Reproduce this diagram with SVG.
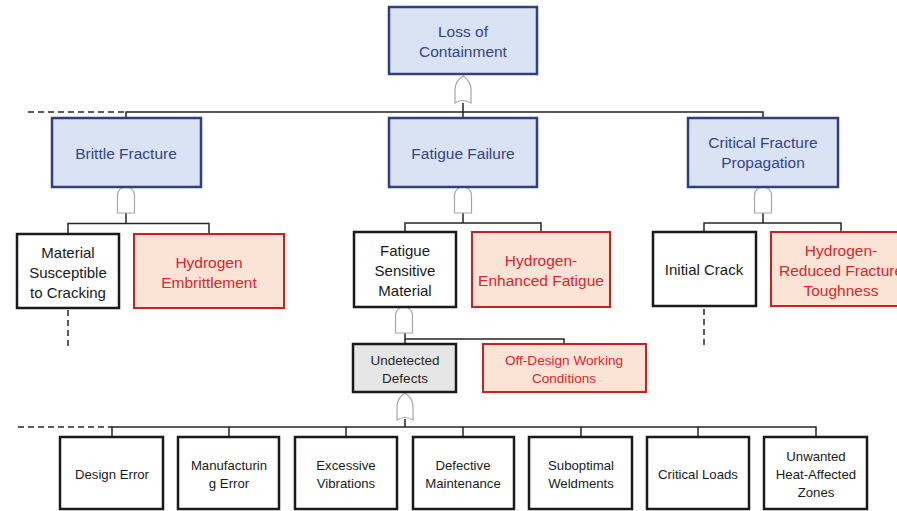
<svg xmlns="http://www.w3.org/2000/svg" width="897" height="511" viewBox="0 0 897 511">
<defs>
<style>
text{font-family:"Liberation Sans",Arial,sans-serif;text-anchor:middle;dominant-baseline:central}
.blue rect{fill:#dae3f3;stroke:#2f3f80;stroke-width:2.5}
.blue text{fill:#34448a;font-size:15.5px}
.red rect{fill:#fbe4d6;stroke:#cc1f1f;stroke-width:2}
.red text{fill:#d9262b;font-size:15.5px}
.basic rect{fill:#fff;stroke:#1a1a1a;stroke-width:2.5}
.basic text{fill:#1a1a1a;font-size:15px}
.gray rect{fill:#e6e6e6;stroke:#1a1a1a;stroke-width:2.5}
.gray text{fill:#262626;font-size:13.5px}
.small text{font-size:13.2px}
.red.small text{font-size:13.6px}
.gate{fill:#fff;stroke:#a6a6a6;stroke-width:1.2}
.ln{fill:none;stroke:#262626;stroke-width:1.5}
.dash{fill:none;stroke:#262626;stroke-width:1.5;stroke-dasharray:6 4}
</style>
<path id="and" d="M-8.5,26 V8 A8.5,8 0 0 1 8.5,8 V26 Z"/>
<path id="or" d="M-8,27 V14 Q-8,5 0,0 Q8,5 8,14 V27 Q0,22 -8,27 Z"/>
</defs>

<g id="connectors">
<line class="ln" x1="463" y1="103" x2="463" y2="112"/>
<path class="ln" d="M126,118 V112 H763 V118"/>
<line class="ln" x1="463" y1="112" x2="463" y2="118"/>
<line class="dash" x1="28" y1="112" x2="126" y2="112"/>
<path class="ln" d="M126,213 V223.5 M68,234 V223.5 H209 V234"/>
<path class="ln" d="M463,213 V223 M405,232 V223 H541 V232"/>
<path class="ln" d="M763,213 V223 M704,232 V223 H841 V232"/>
<line class="dash" x1="68" y1="310" x2="68" y2="346"/>
<line class="dash" x1="704" y1="309" x2="704" y2="346"/>
<path class="ln" d="M405,333 V344 M405,339 H564 V344"/>
<path class="ln" d="M405,419 V427 M112,437 V427 H816 V437 M229,427 V437 M346,427 V437 M463,427 V437 M581,427 V437 M698,427 V437"/>
<line class="dash" x1="18" y1="427" x2="112" y2="427"/>
<use href="#or" class="gate" x="463" y="76"/>
<use href="#and" class="gate" x="126" y="187"/>
<use href="#and" class="gate" x="463" y="187"/>
<use href="#and" class="gate" x="763" y="187"/>
<use href="#and" class="gate" x="404" y="307"/>
<use href="#or" class="gate" x="405" y="393"/>
</g>

<g id="loss" class="blue"><rect x="389" y="7" width="148" height="67"/><text x="463" y="31">Loss of</text><text x="463" y="51">Containment</text></g>
<g id="brittle" class="blue"><rect x="52" y="118" width="149" height="69"/><text x="126" y="153">Brittle Fracture</text></g>
<g id="fatigue" class="blue"><rect x="389" y="118" width="148" height="69"/><text x="463" y="153">Fatigue Failure</text></g>
<g id="critical" class="blue"><rect x="688" y="118" width="150" height="69"/><text x="763" y="142">Critical Fracture</text><text x="763" y="162">Propagation</text></g>

<g id="material" class="basic"><rect x="17" y="234" width="102" height="74"/><text x="68" y="252">Material</text><text x="68" y="272">Susceptible</text><text x="68" y="292">to Cracking</text></g>
<g id="h2embrittle" class="red"><rect x="134" y="234" width="150" height="74"/><text x="209" y="262">Hydrogen</text><text x="209" y="282">Embrittlement</text></g>
<g id="fsm" class="basic"><rect x="354" y="232" width="102" height="75"/><text x="405" y="250">Fatigue</text><text x="405" y="270">Sensitive</text><text x="405" y="290">Material</text></g>
<g id="h2fatigue" class="red"><rect x="472" y="232" width="138" height="75"/><text x="541" y="260">Hydrogen-</text><text x="541" y="280">Enhanced Fatigue</text></g>
<g id="crack" class="basic"><rect x="653" y="232" width="103" height="74"/><text x="704" y="269">Initial Crack</text></g>
<g id="h2tough" class="red"><rect x="771" y="232" width="140" height="74"/><text x="841" y="250">Hydrogen-</text><text x="841" y="270">Reduced Fracture</text><text x="841" y="290">Toughness</text></g>

<g id="undetected" class="gray"><rect x="353" y="344" width="103" height="48"/><text x="405" y="360">Undetected</text><text x="405" y="378">Defects</text></g>
<g id="offdesign" class="red small"><rect x="483" y="344" width="163" height="48"/><text x="564" y="360">Off-Design Working</text><text x="564" y="378">Conditions</text></g>

<g id="design" class="basic small"><rect x="60" y="437" width="103" height="72"/><text x="112" y="474">Design Error</text></g>
<g id="manufacturing" class="basic small"><rect x="178" y="437" width="101" height="72"/><text x="229" y="465">Manufacturin</text><text x="229" y="483">g Error</text></g>
<g id="vibrations" class="basic small"><rect x="295" y="437" width="102" height="72"/><text x="346" y="465">Excessive</text><text x="346" y="483">Vibrations</text></g>
<g id="maintenance" class="basic small"><rect x="413" y="437" width="101" height="72"/><text x="463" y="465">Defective</text><text x="463" y="483">Maintenance</text></g>
<g id="weldments" class="basic small"><rect x="529" y="437" width="103" height="72"/><text x="581" y="465">Suboptimal</text><text x="581" y="483">Weldments</text></g>
<g id="loads" class="basic small"><rect x="647" y="437" width="102" height="72"/><text x="698" y="474">Critical Loads</text></g>
<g id="haz" class="basic small"><rect x="764" y="437" width="103" height="72"/><text x="816" y="456">Unwanted</text><text x="816" y="474">Heat-Affected</text><text x="816" y="492">Zones</text></g>
</svg>
